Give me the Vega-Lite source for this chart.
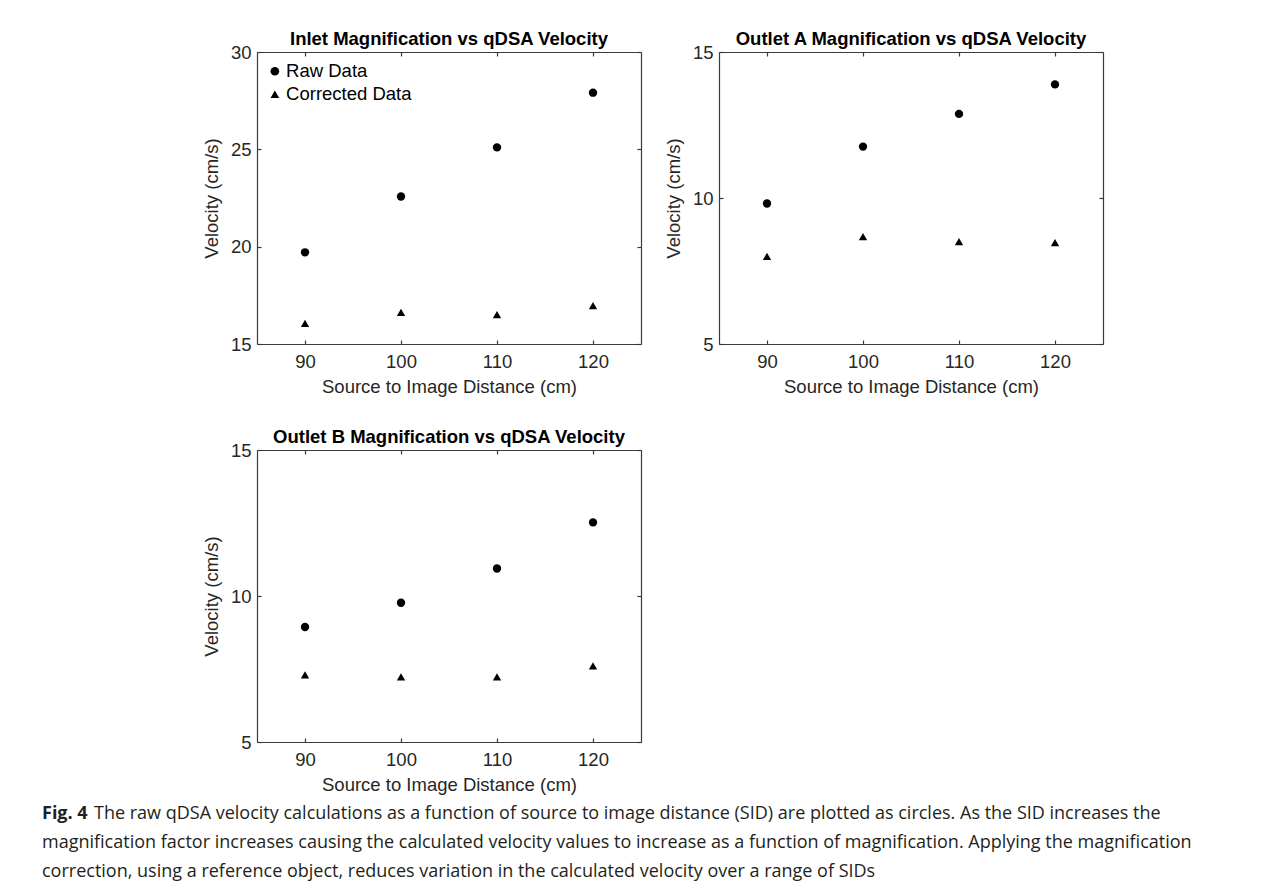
{
  "$schema": "https://vega.github.io/schema/vega-lite/v6.json",
  "background": "white",
  "padding": {"left": 42, "top": 29, "right": 10, "bottom": 6},
  "bounds": "flush",
  "columns": 2,
  "spacing": {"row": 106, "column": 78},
  "config": {
    "font": "Liberation Sans",
    "view": {"stroke": null},
    "title": {"fontSize": 18.5, "fontWeight": "bold", "color": "#000000", "offset": -5, "frame": "group", "anchor": "middle", "font": "Liberation Sans"},
    "axis": {
      "grid": false,
      "domainColor": "#3a3a3a", "domainWidth": 1.2,
      "tickColor": "#3a3a3a", "tickWidth": 1.2, "tickSize": -4,
      "labelFont": "Liberation Sans", "labelFontSize": 18.5, "labelColor": "#262626", "labelPadding": 12, "labelFlush": false,
      "titleFont": "Liberation Sans", "titleFontSize": 18.5, "titleFontWeight": "normal", "titleColor": "#262626"
    },
    "axisX": {"titlePadding": 7},
    "axisY": {"titlePadding": 9, "labelPadding": 10},
    "legend": {"labelFont": "Liberation Sans", "labelFontSize": 18.5, "labelColor": "#000000", "symbolSize": 75, "symbolFillColor": "#000000", "symbolStrokeColor": "#000000", "symbolStrokeWidth": 0, "labelOffset": 2, "rowPadding": 4, "padding": 0}
  },
  "datasets": {
    "inlet": [
      {"sid": 90, "velocity": 19.71, "series": "Raw Data"},
      {"sid": 100, "velocity": 22.58, "series": "Raw Data"},
      {"sid": 110, "velocity": 25.10, "series": "Raw Data"},
      {"sid": 120, "velocity": 27.91, "series": "Raw Data"},
      {"sid": 90, "velocity": 16.06, "series": "Corrected Data"},
      {"sid": 100, "velocity": 16.63, "series": "Corrected Data"},
      {"sid": 110, "velocity": 16.51, "series": "Corrected Data"},
      {"sid": 120, "velocity": 16.97, "series": "Corrected Data"}
    ],
    "outletA": [
      {"sid": 90, "velocity": 9.81, "series": "Raw Data"},
      {"sid": 100, "velocity": 11.76, "series": "Raw Data"},
      {"sid": 110, "velocity": 12.88, "series": "Raw Data"},
      {"sid": 120, "velocity": 13.89, "series": "Raw Data"},
      {"sid": 90, "velocity": 8.00, "series": "Corrected Data"},
      {"sid": 100, "velocity": 8.68, "series": "Corrected Data"},
      {"sid": 110, "velocity": 8.51, "series": "Corrected Data"},
      {"sid": 120, "velocity": 8.47, "series": "Corrected Data"}
    ],
    "outletB": [
      {"sid": 90, "velocity": 8.94, "series": "Raw Data"},
      {"sid": 100, "velocity": 9.77, "series": "Raw Data"},
      {"sid": 110, "velocity": 10.94, "series": "Raw Data"},
      {"sid": 120, "velocity": 12.52, "series": "Raw Data"},
      {"sid": 90, "velocity": 7.30, "series": "Corrected Data"},
      {"sid": 100, "velocity": 7.23, "series": "Corrected Data"},
      {"sid": 110, "velocity": 7.23, "series": "Corrected Data"},
      {"sid": 120, "velocity": 7.61, "series": "Corrected Data"}
    ],
    "caption": [
      {"line": 1, "part": "label", "text": "Fig. 4"},
      {"line": 1, "part": "first", "text": "The raw qDSA velocity calculations as a function of source to image distance (SID) are plotted as circles. As the SID increases the"},
      {"line": 2, "part": "body", "text": "magnification factor increases causing the calculated velocity values to increase as a function of magnification. Applying the magnification"},
      {"line": 3, "part": "body", "text": "correction, using a reference object, reduces variation in the calculated velocity over a range of SIDs"}
    ]
  },
  "concat": [
    {
      "width": 384, "height": 292,
      "title": "Inlet Magnification vs qDSA Velocity",
      "data": {"name": "inlet"},
      "layer": [
        {
          "mark": {"type": "point", "filled": true, "color": "#000000", "opacity": 1, "size": 70},
          "encoding": {
            "x": {"field": "sid", "type": "quantitative", "scale": {"domain": [85, 125], "nice": false, "zero": false}, "axis": {"orient": "bottom", "values": [90, 100, 110, 120], "title": "Source to Image Distance (cm)"}},
            "y": {"field": "velocity", "type": "quantitative", "scale": {"domain": [15, 30], "nice": false, "zero": false}, "axis": {"orient": "left", "values": [15, 20, 25, 30], "title": "Velocity (cm/s)"}},
            "shape": {"field": "series", "type": "nominal", "scale": {"domain": ["Raw Data", "Corrected Data"], "range": ["circle", "triangle-up"]}, "legend": {"title": null, "orient": "none", "legendX": 8.6, "legendY": 10}}
          }
        },
        {
          "mark": {"type": "point", "opacity": 0},
          "encoding": {
            "x": {"field": "sid", "type": "quantitative", "axis": {"orient": "top", "values": [90, 100, 110, 120], "labels": false, "title": null, "minExtent": 0, "maxExtent": 0}},
            "y": {"field": "velocity", "type": "quantitative", "axis": {"orient": "right", "values": [15, 20, 25, 30], "labels": false, "title": null, "minExtent": 0, "maxExtent": 0}}
          }
        }
      ],
      "resolve": {"axis": {"x": "independent", "y": "independent"}}
    },
    {
      "width": 384, "height": 292,
      "title": "Outlet A Magnification vs qDSA Velocity",
      "data": {"name": "outletA"},
      "layer": [
        {
          "mark": {"type": "point", "filled": true, "color": "#000000", "opacity": 1, "size": 70},
          "encoding": {
            "x": {"field": "sid", "type": "quantitative", "scale": {"domain": [85, 125], "nice": false, "zero": false}, "axis": {"orient": "bottom", "values": [90, 100, 110, 120], "title": "Source to Image Distance (cm)"}},
            "y": {"field": "velocity", "type": "quantitative", "scale": {"domain": [5, 15], "nice": false, "zero": false}, "axis": {"orient": "left", "values": [5, 10, 15], "title": "Velocity (cm/s)"}},
            "shape": {"field": "series", "type": "nominal", "scale": {"domain": ["Raw Data", "Corrected Data"], "range": ["circle", "triangle-up"]}, "legend": {"title": null, "orient": "none", "legendX": 8.6, "legendY": 10}}
          }
        },
        {
          "mark": {"type": "point", "opacity": 0},
          "encoding": {
            "x": {"field": "sid", "type": "quantitative", "axis": {"orient": "top", "values": [90, 100, 110, 120], "labels": false, "title": null, "minExtent": 0, "maxExtent": 0}},
            "y": {"field": "velocity", "type": "quantitative", "axis": {"orient": "right", "values": [5, 10, 15], "labels": false, "title": null, "minExtent": 0, "maxExtent": 0}}
          }
        }
      ],
      "resolve": {"axis": {"x": "independent", "y": "independent"}}
    },
    {
      "width": 384, "height": 292,
      "title": "Outlet B Magnification vs qDSA Velocity",
      "data": {"name": "outletB"},
      "layer": [
        {
          "mark": {"type": "point", "filled": true, "color": "#000000", "opacity": 1, "size": 70},
          "encoding": {
            "x": {"field": "sid", "type": "quantitative", "scale": {"domain": [85, 125], "nice": false, "zero": false}, "axis": {"orient": "bottom", "values": [90, 100, 110, 120], "title": "Source to Image Distance (cm)"}},
            "y": {"field": "velocity", "type": "quantitative", "scale": {"domain": [5, 15], "nice": false, "zero": false}, "axis": {"orient": "left", "values": [5, 10, 15], "title": "Velocity (cm/s)"}},
            "shape": {"field": "series", "type": "nominal", "scale": {"domain": ["Raw Data", "Corrected Data"], "range": ["circle", "triangle-up"]}, "legend": {"title": null, "orient": "none", "legendX": 8.6, "legendY": 10}}
          }
        },
        {
          "mark": {"type": "point", "opacity": 0},
          "encoding": {
            "x": {"field": "sid", "type": "quantitative", "axis": {"orient": "top", "values": [90, 100, 110, 120], "labels": false, "title": null, "minExtent": 0, "maxExtent": 0}},
            "y": {"field": "velocity", "type": "quantitative", "axis": {"orient": "right", "values": [5, 10, 15], "labels": false, "title": null, "minExtent": 0, "maxExtent": 0}}
          }
        }
      ],
      "resolve": {"axis": {"x": "independent", "y": "independent"}}
    },
    {
      "width": 384, "height": 292,
      "data": {"name": "caption"},
      "encoding": {
        "y": {"field": "line", "type": "quantitative", "axis": null, "scale": {"domain": [1, 3], "range": [364.3, 421.7], "zero": false, "nice": false}},
        "text": {"field": "text"}
      },
      "layer": [
        {
          "transform": [{"filter": "datum.part === 'label'"}],
          "mark": {"type": "text", "align": "left", "baseline": "middle", "x": -677, "font": "Open Sans", "fontSize": 18, "fontWeight": "bold", "color": "#231f20"}
        },
        {
          "transform": [{"filter": "datum.part === 'first'"}],
          "mark": {"type": "text", "align": "left", "baseline": "middle", "x": -625, "font": "Open Sans", "fontSize": 18, "color": "#231f20"}
        },
        {
          "transform": [{"filter": "datum.part === 'body'"}],
          "mark": {"type": "text", "align": "left", "baseline": "middle", "x": -677, "font": "Open Sans", "fontSize": 18, "color": "#231f20"}
        }
      ]
    }
  ]
}
